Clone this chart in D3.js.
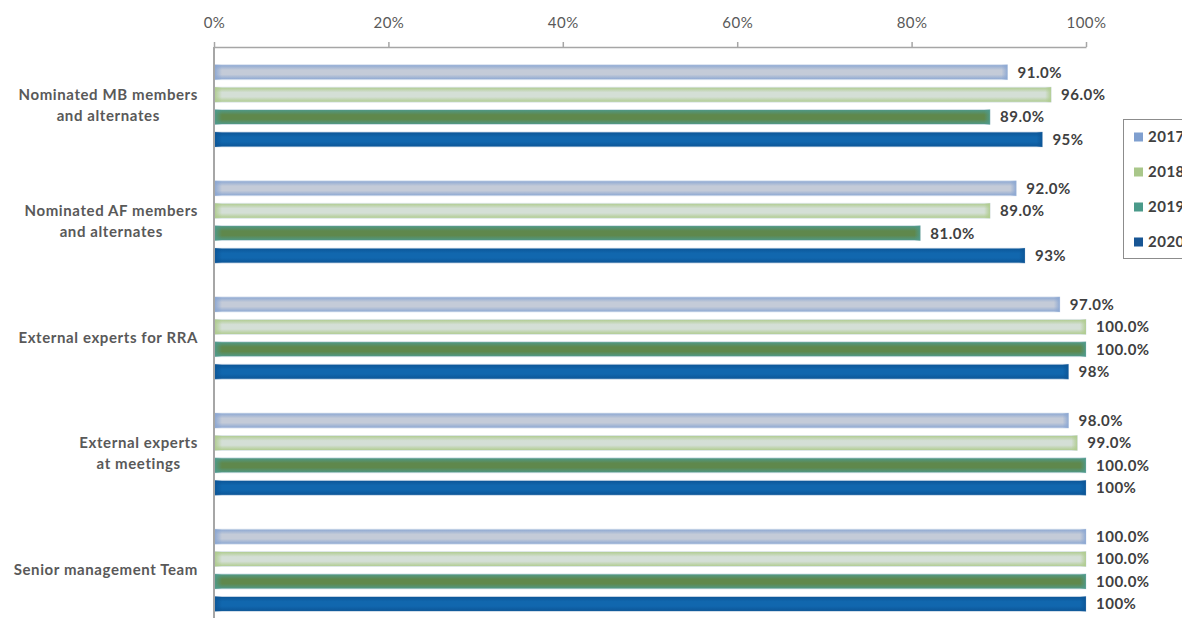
<!DOCTYPE html>
<html>
<head>
<meta charset="utf-8">
<script src="https://cdn.jsdelivr.net/npm/d3@7"></script>
<style>
  html, body { margin: 0; padding: 0; background: #fff; }
  svg { display: block; font-family: Lato, "Open Sans", sans-serif; }
</style>
</head>
<body>
<svg id="chart" width="1182" height="618"></svg>
<script>
// Categories (two-line labels) and yearly series
const categories = [
  ["Nominated MB members", "and alternates"],
  ["Nominated AF members", "and alternates"],
  ["External experts for RRA"],
  ["External experts", "at meetings"],
  ["Senior management Team"]
];
const years = ["2017", "2018", "2019", "2020"];
const values2017 = [91, 92, 97, 98, 100];
const values2018 = [96, 89, 100, 99, 100];
const values2019 = [89, 81, 100, 100, 100];
const values2020 = [95, 93, 98, 100, 100];
const tickValues = [0, 20, 40, 60, 80, 100];

const seriesValues = { "2017": values2017, "2018": values2018, "2019": values2019, "2020": values2020 };
// label format per year: earlier years carry one decimal
const labelFormat = { "2017": d3.format(".1f"), "2018": d3.format(".1f"), "2019": d3.format(".1f"), "2020": d3.format(".0f") };

// bar styling: edge colour, centre colour, legend swatch
const styles = {
  "2017": { edge: "#8aa6d2", center: "#c4cbd8", swatch: "#7f9fcf" },
  "2018": { edge: "#aecb8c", center: "#d4dfd6", swatch: "#a9c78a" },
  "2019": { edge: "#4e9a8c", center: "#5f884c", swatch: "#4a9a8a" },
  "2020": { edge: "#0c5596", center: "#1167ae", swatch: "#175594" }
};

const svg = d3.select("#chart");
const defs = svg.append("defs");

const margin = { top: 47 };
const x = d3.scaleLinear().domain([0, 100]).range([214, 1086]);

const groupStep = 116.1;
const y0 = d3.scaleBand()
  .domain(d3.range(categories.length))
  .range([margin.top, margin.top + groupStep * categories.length])
  .padding(0);
const y1 = d3.scaleBand()
  .domain(years)
  .range([0.8, y0.bandwidth() + 0.8])
  .paddingInner(0.33)
  .paddingOuter(0.755);

// gradients: vertical edge-centre-edge, plus horizontal end fades
years.forEach(yr => {
  const s = styles[yr];
  const gv = defs.append("linearGradient").attr("id", "gv" + yr)
    .attr("x1", 0).attr("y1", 0).attr("x2", 0).attr("y2", 1);
  gv.append("stop").attr("offset", "0%").attr("stop-color", s.edge);
  gv.append("stop").attr("offset", "35%").attr("stop-color", s.center);
  gv.append("stop").attr("offset", "65%").attr("stop-color", s.center);
  gv.append("stop").attr("offset", "100%").attr("stop-color", s.edge);

  const gl = defs.append("linearGradient").attr("id", "gl" + yr)
    .attr("x1", 0).attr("y1", 0).attr("x2", 1).attr("y2", 0);
  gl.append("stop").attr("offset", "0%").attr("stop-color", s.edge).attr("stop-opacity", 1);
  gl.append("stop").attr("offset", "100%").attr("stop-color", s.edge).attr("stop-opacity", 0);

  const gr = defs.append("linearGradient").attr("id", "gr" + yr)
    .attr("x1", 0).attr("y1", 0).attr("x2", 1).attr("y2", 0);
  gr.append("stop").attr("offset", "0%").attr("stop-color", s.edge).attr("stop-opacity", 0);
  gr.append("stop").attr("offset", "100%").attr("stop-color", s.edge).attr("stop-opacity", 0.9);
});

// top axis
const axis = d3.axisTop(x)
  .tickValues(tickValues)
  .tickFormat(d => d + "%")
  .tickSizeInner(5)
  .tickSizeOuter(0)
  .tickPadding(14);
const gAxis = svg.append("g").attr("transform", `translate(0,${margin.top})`).call(axis);
gAxis.select(".domain").attr("stroke", "#a6a6a6").attr("stroke-width", 1.5);
gAxis.selectAll(".tick line").attr("stroke", "#a6a6a6").attr("stroke-width", 1.5);
gAxis.selectAll(".tick text")
  .attr("fill", "#595959")
  .style("font-size", "15px")
  .style("letter-spacing", "0.5px")
  .style("font-family", "Lato, sans-serif");

// bars
const groups = svg.append("g").selectAll("g.group")
  .data(categories.map((c, i) => ({ label: c, i })))
  .join("g")
  .attr("class", "group")
  .attr("transform", d => `translate(0,${y0(d.i)})`);

const barData = d => years.map(yr => ({ yr, v: seriesValues[yr][d.i] }));

const bars = groups.selectAll("g.bar").data(barData).join("g").attr("class", "bar");
const bh = y1.bandwidth();

bars.append("rect")
  .attr("x", x(0))
  .attr("y", d => y1(d.yr))
  .attr("width", d => x(d.v) - x(0))
  .attr("height", bh)
  .attr("fill", d => `url(#gv${d.yr})`)
  .attr("stroke", "#dfe7f0")
  .attr("stroke-width", 0.8);

bars.append("rect")
  .attr("x", x(0))
  .attr("y", d => y1(d.yr))
  .attr("width", 8)
  .attr("height", bh)
  .attr("fill", d => `url(#gl${d.yr})`);

bars.append("rect")
  .attr("x", d => x(d.v) - 6)
  .attr("y", d => y1(d.yr))
  .attr("width", 6)
  .attr("height", bh)
  .attr("fill", d => `url(#gr${d.yr})`);

// value labels
bars.append("text")
  .attr("x", d => x(d.v) + 10)
  .attr("y", d => y1(d.yr) + bh / 2)
  .attr("dy", "0.36em")
  .attr("fill", "#404040")
  .style("font-size", "15px")
  .style("letter-spacing", "0.5px")
  .style("font-weight", "bold")
  .text(d => labelFormat[d.yr](d.v) + "%");

// vertical category axis line
svg.append("line")
  .attr("x1", x(0)).attr("x2", x(0))
  .attr("y1", margin.top).attr("y2", 618)
  .attr("stroke", "#a6a6a6").attr("stroke-width", 2);

// category labels: block right-aligned, lines centred within block
const labelRight = 198;
const lineH = 21;
groups.each(function(d) {
  const g = d3.select(this);
  const cy = y0.bandwidth() / 2;
  const t = g.append("text")
    .attr("fill", "#595959")
    .style("font-size", "15px")
    .style("letter-spacing", "0.6px")
    .style("font-weight", "bold")
    .attr("text-anchor", "middle");
  const n = d.label.length;
  d.label.forEach((line, k) => {
    t.append("tspan")
      .attr("y", cy + (k - (n - 1) / 2) * lineH)
      .attr("dy", "0.36em")
      .text(line);
  });
  const tspans = t.selectAll("tspan").nodes();
  const w = d3.max(tspans, n => n.getComputedTextLength());
  t.selectAll("tspan").attr("x", labelRight - w / 2);
});

// legend
const legend = svg.append("g").attr("transform", "translate(1123.5,119.5)");
legend.append("rect")
  .attr("width", 80).attr("height", 139)
  .attr("fill", "#fff")
  .attr("stroke", "#8c8c8c").attr("stroke-width", 1);
const items = legend.selectAll("g.item").data(years).join("g")
  .attr("class", "item")
  .attr("transform", (d, i) => `translate(0,${17.5 + i * 35})`);
items.append("rect")
  .attr("x", 10.5).attr("y", -4.5)
  .attr("width", 9).attr("height", 9)
  .attr("fill", d => styles[d].swatch);
items.append("text")
  .attr("x", 24.5).attr("dy", "0.36em")
  .attr("fill", "#404040")
  .style("font-size", "15px")
  .style("letter-spacing", "0.5px")
  .style("font-weight", "bold")
  .text(d => d);
</script>
</body>
</html>
